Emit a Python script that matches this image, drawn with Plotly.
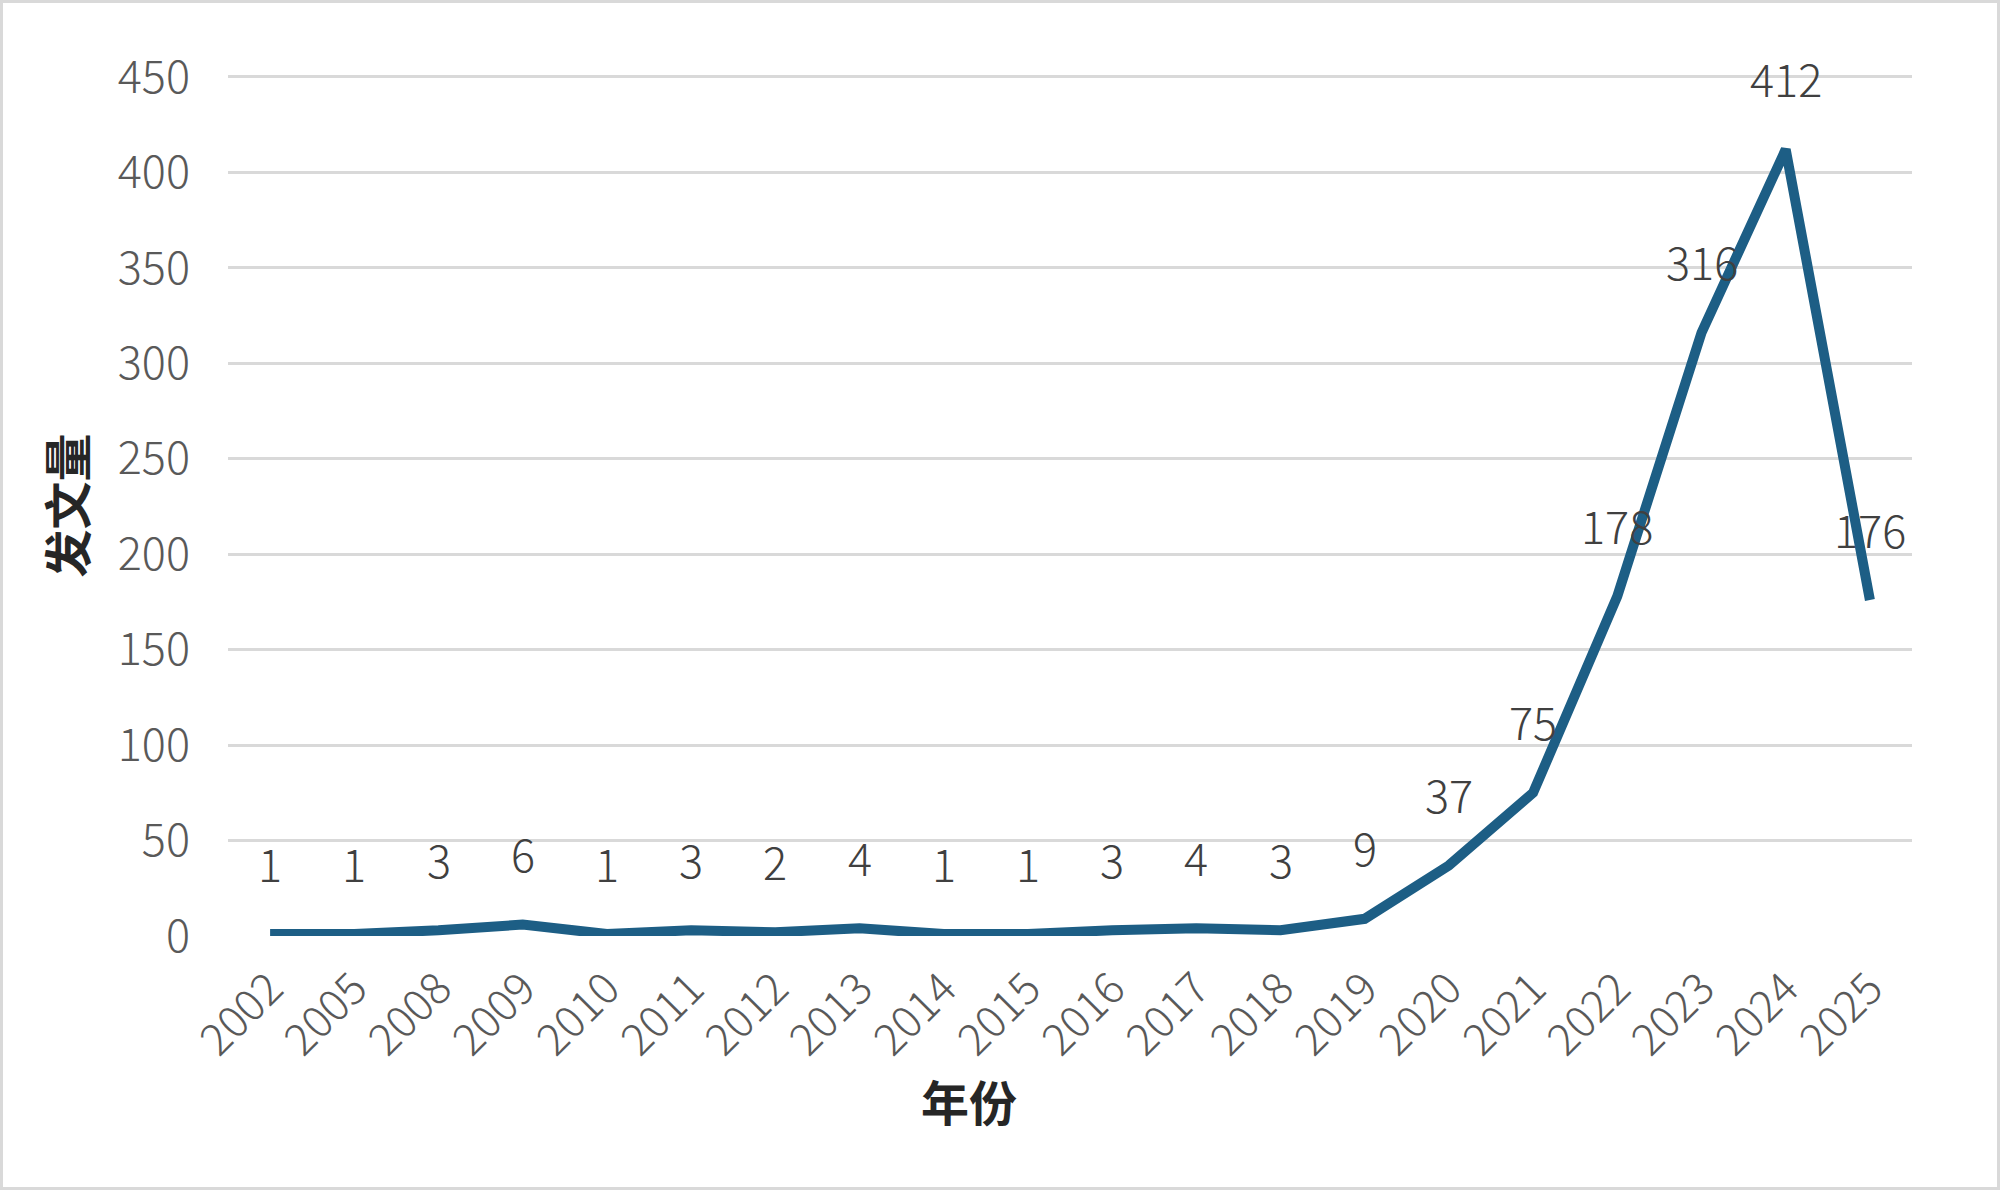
import plotly.graph_objects as go

years = ["2002", "2005", "2008", "2009", "2010", "2011", "2012", "2013", "2014", "2015",
         "2016", "2017", "2018", "2019", "2020", "2021", "2022", "2023", "2024", "2025"]
counts = [1, 1, 3, 6, 1, 3, 2, 4, 1, 1, 3, 4, 3, 9, 37, 75, 178, 316, 412, 176]
y_ticks = [0, 50, 100, 150, 200, 250, 300, 350, 400, 450]

W, H = 2000, 1190
L, R, T, B = 228, 88, 75, 254
pw, ph = W - L - R, H - T - B

FONT = "Noto Sans CJK SC, Microsoft YaHei, sans-serif"
line_color = "#1d5e85"

fig = go.Figure()
fig.add_trace(go.Scatter(
    x=years, y=counts, mode="lines",
    line=dict(color=line_color, width=10),
    hoverinfo="x+y", showlegend=False,
))

# data labels above each point (category index, so "2002" isn't read as a number)
for i, c in enumerate(counts):
    fig.add_annotation(x=i, y=c, text=str(c), showarrow=False, yshift=72,
                       font=dict(family=FONT, size=45, color="#404040", weight=300))

# x axis title (Excel centres it on the chart area, not the plot)
fig.add_annotation(xref="paper", yref="paper", x=(969 - L) / pw, y=(T + ph - 1100) / ph,
                   text="年份", showarrow=False, yanchor="middle",
                   font=dict(family=FONT, size=48, color="#262626", weight="bold"))

# outer chart border
def px_x(p):
    return (p - L) / pw

def px_y(p):
    return (T + ph - p) / ph

fig.add_shape(type="rect", xref="paper", yref="paper",
              x0=px_x(1.5), x1=px_x(W - 1.5), y0=px_y(H - 1.5), y1=px_y(1.5),
              line=dict(color="#d9d9d9", width=3), layer="below")

fig.update_layout(
    width=W, height=H,
    margin=dict(l=L, r=R, t=T, b=B),
    paper_bgcolor="white", plot_bgcolor="white",
    font=dict(family=FONT, color="#595959"),
    xaxis=dict(
        type="category", range=[-0.5, len(years) - 0.5], automargin=False,
        tickangle=-45, tickfont=dict(size=44, color="#595959", weight=300),
        showgrid=False, showline=False, zeroline=False,
        ticks="outside", ticklen=8, tickcolor="rgba(0,0,0,0)",
    ),
    yaxis=dict(
        range=[0, 451], tickvals=y_ticks, automargin=False,
        tickfont=dict(size=45, color="#595959", weight=300),
        showgrid=True, gridcolor="#d9d9d9", gridwidth=3,
        zeroline=False, showline=False,
        ticks="outside", ticklen=28, tickcolor="rgba(0,0,0,0)",
        title=dict(text="发文量", standoff=15,
                   font=dict(family=FONT, size=48, color="#262626", weight="bold")),
    ),
)

fig.write_html("out.html", config={"displayModeBar": False},
               post_script="document.body.style.margin='0';")
